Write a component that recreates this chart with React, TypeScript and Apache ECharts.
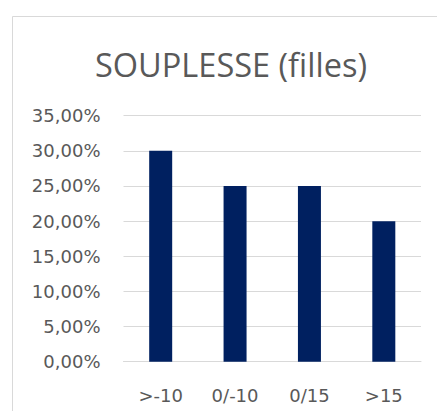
import React, { useEffect, useRef } from "react";
import * as echarts from "echarts";

const categories = [">-10", "0/-10", "0/15", ">15"];
const values = [0.3, 0.25, 0.25, 0.2];
const titleText = "SOUPLESSE (filles)";

export default function App() {
  const ref = useRef<HTMLDivElement>(null);
  useEffect(() => {
    const chart = echarts.init(ref.current!, null, { renderer: "svg" });
    const font = "DejaVu Sans";
    chart.setOption({
      animation: false,
      backgroundColor: "#ffffff",
      graphic: [
        {
          type: "rect",
          shape: { x: 12.5, y: 16.5, width: 500, height: 500 },
          style: { fill: "none", stroke: "#d9d9d9", lineWidth: 1 },
          silent: true,
        },
        {
          type: "text",
          x: 231,
          y: 64,
          style: {
            text: titleText,
            font: `400 32.5px "Open Sans"`,
            fill: "#595959",
            textAlign: "center",
            textVerticalAlign: "middle",
          },
        },
      ],
      grid: { left: 123.5, right: 16, top: 115.7, bottom: 49.3 },
      xAxis: {
        type: "category",
        data: categories,
        axisLine: { show: true, lineStyle: { color: "#d9d9d9", width: 1 } },
        axisTick: { show: false },
        axisLabel: { color: "#595959", fontSize: 18, fontFamily: font, margin: 25 },
      },
      yAxis: {
        type: "value",
        min: 0,
        max: 0.35,
        interval: 0.05,
        axisLine: { show: false },
        axisTick: { show: false },
        splitLine: { lineStyle: { color: "#d9d9d9", width: 1 } },
        axisLabel: {
          color: "#595959",
          fontSize: 18,
          fontFamily: font,
          margin: 23,
          formatter: (v: number) => (v * 100).toFixed(2).replace(".", ",") + "%",
        },
      },
      series: [
        {
          type: "bar",
          data: values,
          barWidth: 23,
          itemStyle: { color: "#002060" },
        },
      ],
    });
    return () => chart.dispose();
  }, []);
  return (
    <div
      ref={ref}
      style={{ position: "fixed", left: 0, top: 0, width: 437, height: 411 }}
    />
  );
}
